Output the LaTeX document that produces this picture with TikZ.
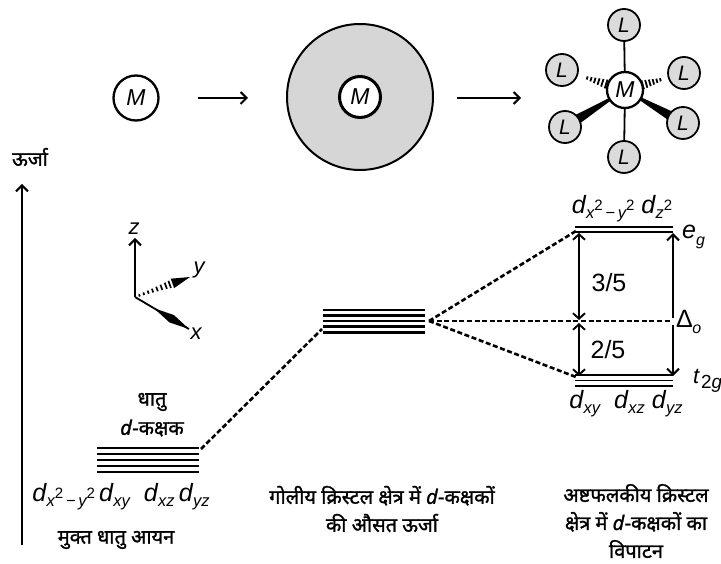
\documentclass[tikz,border=0pt]{standalone}
\usepackage{fontspec}
\setmainfont{Liberation Sans}
\newfontfamily\hin[Script=Devanagari, FakeBold=1.3]{Noto Sans}
\usetikzlibrary{arrows.meta,calc}
\pgfdeclarelayer{background}
\pgfsetlayers{background,main}

% orbital labels: d with an italic subscript
\newcommand\dorb[1]{\textit{d}\kern-0.3pt{\fontsize{16.5}{16.5}\selectfont\itshape\raisebox{-0.55ex}{#1}}}
\newcommand\sqd{\raisebox{1.0ex}{\fontsize{15}{15}\selectfont\upshape 2}}

\tikzset{
  metal/.style={circle, draw, line width=2.3pt, fill=white, inner sep=0pt,
                font=\fontsize{23}{23}\selectfont\itshape},
  ligand/.style={circle, draw, line width=1.8pt, fill=gray!28, inner sep=0pt,
                 minimum size=32pt, font=\fontsize{21}{21}\selectfont\itshape},
  lvl/.style={line width=2.6pt},
  thinlvl/.style={line width=1.7pt},
  dashc/.style={line width=2.6pt, dash pattern=on 5pt off 2.6pt},
  barb/.style={line width=2.6pt, -{Straight Barb[length=6pt,width=12pt,line width=2pt]}},
  dbarb/.style={line width=2.3pt, {Straight Barb[length=5.5pt,width=12pt,line width=1.9pt]}-{Straight Barb[length=5.5pt,width=12pt,line width=1.9pt]}},
  hindi/.style={font=\hin\fontsize{20}{28}\selectfont, align=center, inner sep=0pt},
  lab/.style={font=\fontsize{25}{25}\selectfont, inner sep=0pt},
  axlab/.style={font=\fontsize{22}{22}\selectfont\itshape, inner sep=0pt},
}

\begin{document}
\begin{tikzpicture}[x=1pt,y=-1pt]
\begin{pgfonlayer}{background}
  \fill[white] (0,0) rectangle (721,564);
\end{pgfonlayer}
\useasboundingbox (0,0) rectangle (721,564);

% ---------- top row: free ion, spherical field, octahedral field ----------
\node[metal, minimum size=45pt] (m1) at (136,98) {M};
\node[circle, draw, line width=2pt, fill=gray!32, minimum size=146pt] (disk) at (360,97) {};
\node[metal, line width=3pt, minimum size=41pt] (m2) at (360,97) {M};

\coordinate (a1s) at (198,98);
\coordinate (a1e) at (248,98);
\coordinate (a2s) at (457,98);
\coordinate (a2e) at (521,98);
\draw[barb, line width=2.8pt] (a1s) -- (a1e);
\draw[barb, line width=2.8pt] (a2s) -- (a2e);

\node[metal, minimum size=36pt] (mo) at (625,90) {M};
\node[ligand] (lt)  at (624,25)  {L};
\node[ligand] (lul) at (562,70)  {L};
\node[ligand] (lur) at (684,73)  {L};
\node[ligand] (lll) at (565,127) {L};
\node[ligand] (llr) at (683,123) {L};
\node[ligand] (lb)  at (624,157) {L};

\begin{pgfonlayer}{background}
  % axial bonds
  \draw[line width=1.8pt] (mo.center) -- (lt.center);
  \draw[line width=1.8pt] (mo.center) -- (lb.center);
  % bonds toward the viewer: solid wedges
  \fill (mo.center) -- ($(lll.center)!6pt!90:(mo.center)$) -- ($(lll.center)!6pt!-90:(mo.center)$) -- cycle;
  \fill (mo.center) -- ($(llr.center)!6pt!90:(mo.center)$) -- ($(llr.center)!6pt!-90:(mo.center)$) -- cycle;
\end{pgfonlayer}
% bonds away from the viewer: hashed wedges
\foreach \t/\w in {0.30/4.6,0.36/4.0,0.42/3.4,0.48/2.8,0.54/2.2,0.60/1.6}{
  \draw[line width=1.8pt] ($(mo.center)!\t!(lul.center)!\w pt!90:(lul.center)$) -- ($(mo.center)!\t!(lul.center)!\w pt!-90:(lul.center)$);
  \draw[line width=1.8pt] ($(mo.center)!\t!(lur.center)!\w pt!90:(lur.center)$) -- ($(mo.center)!\t!(lur.center)!\w pt!-90:(lur.center)$);
}

% ---------- energy axis ----------
\coordinate (e0) at (22,545);
\coordinate (e1) at (22,184);
\draw[barb, line width=2.8pt] (e0) -- (e1);
\node[hindi] (en) at (30,157) {ऊर्जा};

% ---------- coordinate axes ----------
\coordinate (O) at (135,297);
\coordinate (Z) at (135,238);
\coordinate (Y) at (190,277);
\coordinate (X) at (189,329);
\draw[barb, line width=2.4pt] (O) -- (Z);
\foreach \t/\w in {0.08/1.2,0.16/1.4,0.24/1.7,0.32/2.0,0.40/2.4,0.48/2.8,0.56/3.3,0.63/3.8}{
  \draw[line width=1.7pt] ($(O)!\t!(Y)!\w pt!90:(Y)$) -- ($(O)!\t!(Y)!\w pt!-90:(Y)$);
}
\fill ($(O)!0.68!(Y)!5pt!90:(Y)$) -- (Y) -- ($(O)!0.68!(Y)!5pt!-90:(Y)$) -- cycle;
\draw[line width=1.8pt] (O) -- (X);
\fill ($(O)!0.35!(X)$) -- ($(O)!0.68!(X)!4.3pt!90:(X)$) -- (X) -- ($(O)!0.68!(X)!4.3pt!-90:(X)$) -- cycle;
\node[axlab] (zl) at (134,229) {z};
\node[axlab] (yl) at (199,270) {y};
\node[axlab] (xl) at (196,334) {x};

% ---------- free ion levels ----------
\coordinate (fL) at (97,448);
\coordinate (fR) at (199,448);
\foreach \i in {0,...,4}{
  \draw[lvl] ($(fL)+(0,6*\i)$) -- ($(fR)+(0,6*\i)$);
}
\node[hindi] (dh) at (152,402) {धातु};
\node[hindi] (dk) at (152,428) {\textit{d}-कक्षक};
\node[lab] (frow) at (121,497) {\dorb{x\sqd\,−\,y\sqd}\,\dorb{xy}\;\;\dorb{xz}\,\dorb{yz}};
\node[hindi] (fcap) at (116,540) {मुक्त धातु आयन};

% ---------- spherical field levels ----------
\coordinate (sL) at (323,310);
\coordinate (sR) at (425,310);
\foreach \i in {0,...,4}{
  \draw[lvl] ($(sL)+(0,5.6*\i)$) -- ($(sR)+(0,5.6*\i)$);
}
\coordinate (sLo) at (322,329);
\coordinate (fRt) at (201,449);
\draw[dashc] (fRt) -- (sLo);
\node[hindi] (scap) at (382,509) {गोलीय क्रिस्टल क्षेत्र में \textit{d}-कक्षकों\\की औसत ऊर्जा};

% ---------- octahedral splitting ----------
\coordinate (cv) at (429,321);
\coordinate (egL) at (575,227);
\coordinate (egR) at (673,227);
\coordinate (tL) at (575,375);
\coordinate (tR) at (673,375);
\foreach \i in {0,1}{
  \draw[thinlvl] ($(egL)+(0,5*\i)$) -- ($(egR)+(0,5*\i)$);
}
\foreach \i in {0,1,2}{
  \draw[thinlvl] ($(tL)+(0,5.5*\i)$) -- ($(tR)+(0,5.5*\i)$);
}
\coordinate (egLd) at (576,231);
\coordinate (tLd) at (576,377);
\coordinate (midR) at (671,321);
\draw[dashc] (cv) -- (egLd);
\draw[dashc] (cv) -- (midR);
\draw[dashc] (cv) -- (tLd);

\coordinate (b1) at (579,233);
\coordinate (b2) at (579,320);
\coordinate (b3) at (579,323);
\coordinate (b4) at (579,376);
\draw[dbarb] (b1) -- (b2);
\draw[dbarb] (b3) -- (b4);
\coordinate (r1) at (673,318);
\coordinate (r2) at (673,233);
\coordinate (r3) at (673,325);
\coordinate (r4) at (673,376);
\draw[barb, line width=2.3pt] (r1) -- (r2);
\draw[barb, line width=2.3pt] (r3) -- (r4);

\node[lab] (f35) at (609,283) {3/5};
\node[lab] (f25) at (608,350) {2/5};
\node[lab, anchor=west] (dlt) at (676,322) {Δ\kern-0.5pt\raisebox{-0.5ex}{\fontsize{16}{16}\selectfont\itshape o}};
\node[lab, anchor=west] (egl) at (682,237) {\textit{e}\raisebox{-0.5ex}{\fontsize{16}{16}\selectfont\itshape g}};
\node[lab, anchor=west] (t2l) at (693,381) {\fontsize{22}{22}\selectfont\textit{t}\kern1pt\raisebox{-0.4ex}{\fontsize{19}{19}\selectfont 2\textit{g}}};
\node[lab] (egtop) at (622,209) {\dorb{x\sqd\,−\,y\sqd}\;\dorb{z\sqd}};
\node[lab] (t2row) at (626,404) {\dorb{xy}\;\;\dorb{xz}\;\dorb{yz}};
\node[hindi] (ocap) at (636,521) {अष्टफलकीय क्रिस्टल\\क्षेत्र में \textit{d}-कक्षकों का\\विपाटन};
\end{tikzpicture}
\end{document}
